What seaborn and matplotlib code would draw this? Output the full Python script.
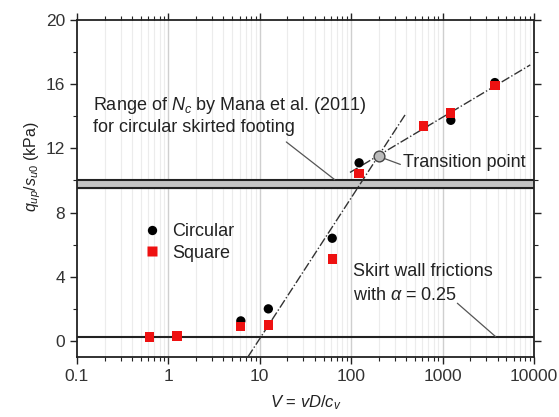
import numpy as np
import pandas as pd
import matplotlib
matplotlib.use("Agg")
import matplotlib.pyplot as plt
import matplotlib.ticker as mticker
import seaborn as sns

# ---- data ----
V_vals = [0.62, 1.24, 6.2, 12.4, 62, 122, 620, 1230, 3730]
circular = [0.25, 0.30, 1.25, 2.0, 6.4, 11.1, 13.4, 13.75, 16.1]
square = [0.25, 0.30, 0.90, 1.0, 5.1, 10.45, 13.4, 14.2, 15.9]
transition_V = [200]
transition_q = [11.5]
steep_V = [7.4, 400]
steep_q = [-1.0, 14.2]
shallow_V = [97, 9100]
shallow_q = [10.5, 17.2]
nc_band = [9.55, 10.05]
friction_q = 0.25
xticks = [0.1, 1, 10, 100, 1000, 10000]
xticklabels = ["0.1", "1", "10", "100", "1000", "10000"]
yticks = [0, 4, 8, 12, 16, 20]

sns.set_theme(style="white")
plt.rcParams['font.family'] = ['Liberation Sans', 'DejaVu Sans']
plt.rcParams['mathtext.fontset'] = 'custom'
plt.rcParams['mathtext.rm'] = 'Liberation Sans'
plt.rcParams['mathtext.it'] = 'Liberation Sans:italic'

fig = plt.figure(figsize=(5.59, 4.17), dpi=100)
ax = fig.add_axes([77/559, 1-357/417, 457/559, 337/417])
ax.set_xscale('log')
ax.set_xlim(0.1, 10000)
ax.set_ylim(-1, 20)

# grid (vertical only)
for dec in [0.1, 1, 10, 100, 1000]:
    for m in range(2, 10):
        ax.axvline(dec*m, color='#ececec', lw=0.8, zorder=0)
for d in [1, 10, 100, 1000]:
    ax.axvline(d, color='#cfcfcf', lw=1.0, zorder=0)

# band and friction line
ax.axhspan(nc_band[0], nc_band[1], color='#c4c4c4', zorder=1)
ax.axhline(nc_band[0], color='#222222', lw=1.5, zorder=2)
ax.axhline(nc_band[1], color='#222222', lw=1.5, zorder=2)
ax.axhline(friction_q, color='#222222', lw=1.5, zorder=2)

# fit lines
ax.plot(steep_V, steep_q, color='#333333', lw=1.0, ls='-.', zorder=3)
ax.plot(shallow_V, shallow_q, color='#333333', lw=1.0, ls='-.', zorder=3)

df = pd.DataFrame({'V': V_vals * 2, 'q': circular + square,
                   'shape': ['Circular'] * len(V_vals) + ['Square'] * len(V_vals)})
sns.scatterplot(data=df, x='V', y='q', hue='shape', style='shape',
                palette={'Circular': 'black', 'Square': '#ee1111'},
                markers={'Circular': 'o', 'Square': 's'},
                s=45, edgecolor='none', ax=ax, zorder=4, legend=True)

ax.scatter(transition_V, transition_q, s=60, facecolor='#bbbbbb', edgecolor='#444444',
           linewidths=1.0, zorder=5)

leg = ax.legend(loc='upper left', bbox_to_anchor=(0.09, 0.445), frameon=False,
                fontsize=13, handletextpad=0.1, labelspacing=0.25, markerscale=1.0)
for t in leg.get_texts():
    t.set_color('#222222')

# annotations
tc = '#222222'
fs = 13
ax.text(0.15, 14.7, r'Range of $N_{c}$ by Mana et al. (2011)', fontsize=fs, color=tc, va='center')
ax.text(0.15, 13.3, 'for circular skirted footing', fontsize=fs, color=tc, va='center')
ax.annotate('', xy=(66, 10.05), xytext=(19.5, 12.4),
            arrowprops=dict(arrowstyle='-', color='#555555', lw=0.9, shrinkA=0, shrinkB=0))
ax.text(370, 11.1, 'Transition point', fontsize=fs, color=tc, va='center')
ax.annotate('', xy=(218, 11.42), xytext=(345, 11.0),
            arrowprops=dict(arrowstyle='-', color='#555555', lw=0.9, shrinkA=0, shrinkB=0))
ax.text(105, 4.3, 'Skirt wall frictions', fontsize=fs, color=tc, va='center')
ax.text(105, 2.85, r'with $\alpha$ = 0.25', fontsize=fs, color=tc, va='center')
ax.annotate('', xy=(3800, 0.27), xytext=(1450, 2.35),
            arrowprops=dict(arrowstyle='-', color='#555555', lw=0.9, shrinkA=0, shrinkB=0))

# ticks and spines
for s in ax.spines.values():
    s.set_color('#222222')
    s.set_linewidth(1.3)
ax.set_xticks(xticks)
ax.set_xticklabels(xticklabels)
ax.xaxis.set_minor_locator(mticker.LogLocator(base=10, subs=np.arange(2, 10)))
ax.xaxis.set_minor_formatter(mticker.NullFormatter())
ax.set_yticks(yticks)
ax.yaxis.set_minor_locator(mticker.MultipleLocator(2))
ax.tick_params(which='both', direction='out', top=True, right=True, bottom=True, left=True,
               labelsize=12.5, colors='#222222', labelcolor='#333333')
ax.tick_params(which='major', length=5, width=1.0)
ax.tick_params(which='minor', length=3, width=0.8)

ax.set_xlabel(r'$V$ = $vD/c_{v}$', fontsize=12, color='#222222', labelpad=7)
ax.set_ylabel(r'$q_{up}/s_{u0}$ (kPa)', fontsize=11.5, color='#222222', labelpad=6)
ax.yaxis.set_label_coords(-0.075, 0.565)

fig.savefig('out.png', dpi=100)
